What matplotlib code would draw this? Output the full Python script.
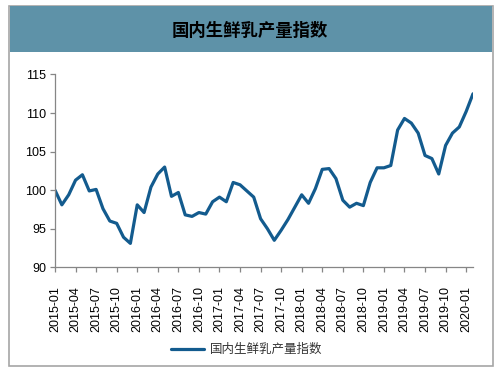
import matplotlib
matplotlib.use("Agg")
import matplotlib.pyplot as plt
from matplotlib.patches import Rectangle
import numpy as np

# monthly index, 2015-01 .. 2020-02
months = [f"{y}-{m:02d}" for y in range(2015, 2021) for m in range(1, 13)][:62]
values = [
    100.0, 98.1, 99.4, 101.3, 102.0, 99.9, 100.1, 97.6, 96.0, 95.7, 93.9, 93.1,   # 2015
    98.1, 97.1, 100.4, 102.1, 103.0, 99.2, 99.7, 96.8, 96.6, 97.1, 96.9, 98.5,    # 2016
    99.1, 98.5, 101.0, 100.7, 99.9, 99.1, 96.3, 95.0, 93.5, 94.8, 96.2, 97.8,     # 2017
    99.4, 98.3, 100.2, 102.7, 102.8, 101.5, 98.7, 97.8, 98.3, 98.0, 101.0, 102.9, # 2018
    102.9, 103.2, 107.8, 109.3, 108.7, 107.4, 104.5, 104.1, 102.1, 105.8, 107.4, 108.2,  # 2019
    110.2, 112.5,                                                                   # 2020
]
series_name = "国内生鲜乳产量指数"
yticks = [90, 95, 100, 105, 110, 115]

cjk = ["Noto Sans CJK SC", "DejaVu Sans"]
num_font = ["Liberation Sans", "DejaVu Sans"]

W, H = 504, 375
fig = plt.figure(figsize=(W / 100, H / 100), dpi=100)

# outer frame and title bar
fig.patches.append(Rectangle((9 / W, 1 - 366 / H), 483.5 / W, 360 / H,
                             transform=fig.transFigure, facecolor="white",
                             edgecolor="#a6a6a6", linewidth=1.2, zorder=0))
fig.patches.append(Rectangle((9.5 / W, 1 - 51.7 / H), 482.5 / W, 45.5 / H,
                             transform=fig.transFigure, facecolor="#5e92a8",
                             edgecolor="none", zorder=1))
fig.text(250 / W, 1 - 30.5 / H, series_name, ha="center", va="center",
         fontsize=12.5, fontweight="bold", family=cjk, color="black")

ax = fig.add_axes([55 / W, 1 - 267.3 / H, 418 / W, 192.8 / H])
ax.set_zorder(5)
ax.set_facecolor("none")

x = np.arange(len(values))
ax.plot(x, values, color="#135b8e", linewidth=2.3, solid_joinstyle="round",
        solid_capstyle="round", label=series_name)

ax.set_xlim(0, len(values) - 1)
ax.set_ylim(90, 115)
ax.set_yticks(yticks)
ax.set_xticks(x[::3])
ax.set_xticklabels(months[::3], rotation=90, va="top")

for s in ["top", "right"]:
    ax.spines[s].set_visible(False)
for s in ["left", "bottom"]:
    ax.spines[s].set_color("#868686")
    ax.spines[s].set_linewidth(0.9)

ax.tick_params(axis="both", direction="out", length=3.5, width=0.9,
               color="#868686", labelsize=9, labelcolor="black")
ax.tick_params(axis="x", pad=10)
ax.tick_params(axis="y", pad=3)
for lab in ax.get_xticklabels() + ax.get_yticklabels():
    lab.set_family(num_font)

leg = ax.legend(loc="center", bbox_to_anchor=(247 / W, 1 - 349.5 / H),
                bbox_transform=fig.transFigure, frameon=False,
                prop={"family": cjk, "size": 9}, handlelength=2.6,
                handletextpad=0.5)
for t in leg.get_texts():
    t.set_color("#333333")

fig.savefig("out.png", dpi=100)
